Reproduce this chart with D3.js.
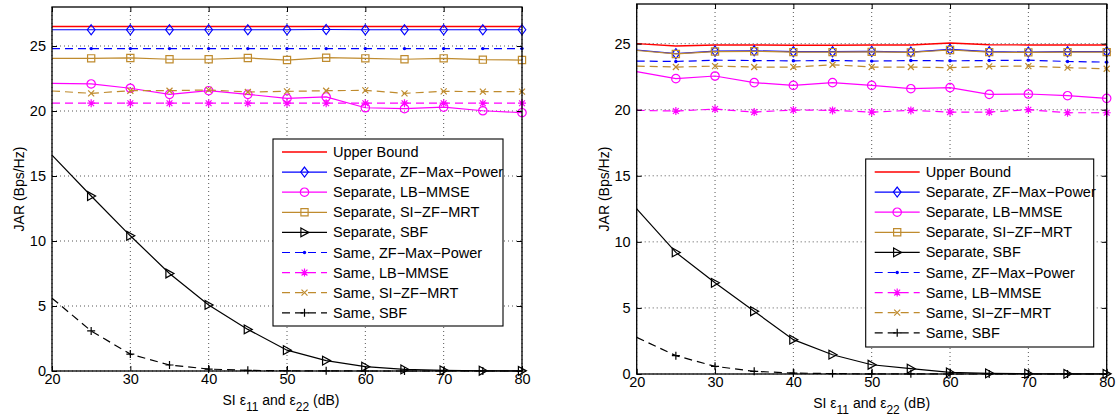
<!DOCTYPE html>
<html>
<head>
<meta charset="utf-8">
<script src="https://cdn.jsdelivr.net/npm/d3@7"></script>
<style>
  body { margin: 0; background: #fff; }
  svg { font-family: "Liberation Sans", Arial, Helvetica, sans-serif; }
  .axis path { display: none; }
  .axis line { stroke: #000; }
  .axis text { font-size: 14.5px; fill: #000; }
</style>
</head>
<body>
<div id="chart"></div>
<script>
// x values (SI in dB)
var xVals = [20, 25, 30, 35, 40, 45, 50, 55, 60, 65, 70, 75, 80];
var xTicks = [20, 30, 40, 50, 60, 70, 80];
var yTicks = [0, 5, 10, 15, 20, 25];

var seriesNames = [
  "Upper Bound",
  "Separate, ZF\u2212Max\u2212Power",
  "Separate, LB\u2212MMSE",
  "Separate, SI\u2212ZF\u2212MRT",
  "Separate, SBF",
  "Same, ZF\u2212Max\u2212Power",
  "Same, LB\u2212MMSE",
  "Same, SI\u2212ZF\u2212MRT",
  "Same, SBF"
];

// left panel
var leftUpper   = [26.5, 26.5, 26.5, 26.5, 26.5, 26.5, 26.5, 26.5, 26.5, 26.5, 26.5, 26.5, 26.5];
var leftSepZF   = [26.25, 26.25, 26.25, 26.25, 26.25, 26.25, 26.25, 26.27, 26.25, 26.25, 26.25, 26.25, 26.25];
var leftSepLB   = [22.13, 22.08, 21.75, 21.28, 21.56, 21.28, 20.97, 21.08, 20.25, 20.18, 20.3, 20.02, 19.87];
var leftSepSI   = [24.05, 24.05, 24.08, 23.98, 23.98, 24.08, 23.92, 24.1, 24.05, 23.98, 24.05, 23.95, 23.92];
var leftSepSBF  = [16.6, 13.46, 10.4, 7.5, 5.08, 3.2, 1.6, 0.8, 0.33, 0.12, 0.05, 0.02, 0.01];
var leftSameZF  = [24.8, 24.8, 24.8, 24.8, 24.8, 24.8, 24.8, 24.8, 24.8, 24.8, 24.8, 24.8, 24.8];
var leftSameLB  = [20.6, 20.6, 20.6, 20.6, 20.6, 20.6, 20.6, 20.6, 20.6, 20.6, 20.6, 20.6, 20.6];
var leftSameSI  = [21.54, 21.36, 21.56, 21.56, 21.62, 21.46, 21.51, 21.56, 21.59, 21.36, 21.51, 21.49, 21.49];
var leftSameSBF = [5.6, 3.08, 1.3, 0.46, 0.15, 0.05, 0.02, 0.01, 0.0, 0.0, 0.0, 0.0, 0.0];

// right panel
var rightUpper   = [25.0, 24.82, 24.9, 24.9, 24.88, 24.88, 24.9, 24.9, 25.05, 24.92, 24.9, 24.9, 24.9];
var rightSepZF   = [24.52, 24.24, 24.44, 24.46, 24.39, 24.39, 24.41, 24.36, 24.57, 24.39, 24.36, 24.39, 24.39];
var rightSepLB   = [22.88, 22.35, 22.55, 22.05, 21.84, 22.05, 21.84, 21.59, 21.67, 21.16, 21.19, 21.06, 20.86];
var rightSepSI   = [24.48, 24.22, 24.4, 24.42, 24.36, 24.36, 24.38, 24.34, 24.52, 24.36, 24.34, 24.36, 24.36];
var rightSepSBF  = [12.5, 9.2, 6.9, 4.75, 2.6, 1.46, 0.7, 0.4, 0.12, 0.05, 0.02, 0.01, 0.01];
var rightSameZF  = [23.68, 23.65, 23.75, 23.72, 23.7, 23.72, 23.68, 23.72, 23.7, 23.72, 23.75, 23.65, 23.6];
var rightSameLB  = [19.95, 19.9, 20.05, 19.82, 19.98, 19.95, 19.82, 19.95, 19.82, 19.82, 20.0, 19.77, 19.77];
var rightSameSI  = [23.3, 23.23, 23.3, 23.23, 23.23, 23.4, 23.23, 23.23, 23.18, 23.28, 23.3, 23.18, 23.1];
var rightSameSBF = [2.77, 1.39, 0.58, 0.2, 0.07, 0.03, 0.01, 0.01, 0.0, 0.0, 0.0, 0.0, 0.0];

var brown = "#bf8b2e";
var styles = [
  {color: "#ff0000", dash: null,  marker: null},
  {color: "#0000ff", dash: null,  marker: "diamond"},
  {color: "#ff00ff", dash: null,  marker: "circle"},
  {color: brown,     dash: null,  marker: "square"},
  {color: "#000000", dash: null,  marker: "triangle"},
  {color: "#0000ff", dash: "8,5", marker: "dot"},
  {color: "#ff00ff", dash: "8,5", marker: "asterisk"},
  {color: brown,     dash: "8,5", marker: "cross"},
  {color: "#000000", dash: "8,5", marker: "plus"}
];

function markerPath(type)
{
  switch(type)
  {
    case "diamond": return "M0,-5L3.8,0L0,5L-3.8,0Z";
    case "square": return "M-3.6,-3.6H3.6V3.6H-3.6Z";
    case "triangle": return "M-3.6,-4.4L4.4,0L-3.6,4.4Z";
    case "asterisk": return "M-4,0H4M0,-4V4M-2.9,-2.9L2.9,2.9M-2.9,2.9L2.9,-2.9";
    case "cross": return "M-3,-3L3,3M-3,3L3,-3";
    case "plus": return "M-4,0H4M0,-4V4";
  }
  return "";
}

function drawMarker(g, type, color)
{
  if(!type) return;
  if(type == "circle")
    g.append("circle").attr("r", 4.2).attr("fill", "none").attr("stroke", color).attr("stroke-width", 1.2);
  else if(type == "dot")
    g.append("circle").attr("r", 1.7).attr("fill", color);
  else
    g.append("path").attr("d", markerPath(type)).attr("fill", "none")
      .attr("stroke", color).attr("stroke-width", 1.2);
}

var svg = d3.select("#chart").append("svg")
  .attr("width", 1118)
  .attr("height", 420);

function Panel(cfg)
{
  var width = cfg.width, height = cfg.height;
  var g = svg.append("g").attr("transform", "translate(" + cfg.left + "," + cfg.top + ")");

  var xS = d3.scaleLinear().domain([20, 80]).range([0, width]);
  var yS = d3.scaleLinear().domain([0, 28]).range([height, 0]);

  // dotted grid
  g.append("g").selectAll("line").data(xTicks).enter().append("line")
    .attr("x1", function(d) { return xS(d); }).attr("x2", function(d) { return xS(d); })
    .attr("y1", 0).attr("y2", height)
    .attr("stroke", "#444").attr("stroke-width", 0.9).attr("stroke-dasharray", "1,3");
  g.append("g").selectAll("line").data(yTicks).enter().append("line")
    .attr("y1", function(d) { return yS(d); }).attr("y2", function(d) { return yS(d); })
    .attr("x1", 0).attr("x2", width)
    .attr("stroke", "#444").attr("stroke-width", 0.9).attr("stroke-dasharray", "1,3");

  var line = d3.line()
    .x(function(d) { return xS(d.x); })
    .y(function(d) { return yS(d.y); });

  cfg.series.forEach(function(s, i)
  {
    var st = styles[i];
    var pts = xVals.map(function(x, j) { return {x: x, y: s[j]}; });
    g.append("path")
      .datum(pts)
      .attr("fill", "none")
      .attr("stroke", st.color)
      .attr("stroke-width", i == 0 ? 1.4 : 1.2)
      .attr("stroke-dasharray", st.dash)
      .attr("d", line);
    if(st.marker)
    {
      g.append("g").selectAll("g").data(pts.slice(1)).enter().append("g")
        .attr("transform", function(d) { return "translate(" + xS(d.x) + "," + yS(d.y) + ")"; })
        .each(function() { drawMarker(d3.select(this), st.marker, st.color); });
    }
  });

  // axes with inward ticks
  g.append("g").attr("class", "axis")
    .attr("transform", "translate(0," + height + ")")
    .call(d3.axisBottom(xS).tickValues(xTicks).tickSizeInner(-5).tickSizeOuter(0).tickPadding(3));
  g.append("g").attr("class", "axis")
    .call(d3.axisTop(xS).tickValues(xTicks).tickSizeInner(-5).tickSizeOuter(0).tickFormat(""));
  g.append("g").attr("class", "axis")
    .call(d3.axisLeft(yS).tickValues(yTicks).tickSizeInner(-5).tickSizeOuter(0).tickPadding(6));
  g.append("g").attr("class", "axis")
    .attr("transform", "translate(" + width + ",0)")
    .call(d3.axisRight(yS).tickValues(yTicks).tickSizeInner(-5).tickSizeOuter(0).tickFormat(""));

  g.append("rect")
    .attr("width", width).attr("height", height)
    .attr("fill", "none").attr("stroke", "#000").attr("stroke-width", 1.3);

  // axis labels
  var xl = g.append("text")
    .attr("x", width / 2 + cfg.xLabelShift)
    .attr("y", height + 34)
    .attr("text-anchor", "middle")
    .style("font-size", "14px");
  xl.append("tspan").text("SI \u03b5");
  xl.append("tspan").attr("dy", 6).style("font-size", "12px").text("11");
  xl.append("tspan").attr("dy", -6).text(" and \u03b5");
  xl.append("tspan").attr("dy", 6).style("font-size", "12px").text("22");
  xl.append("tspan").attr("dy", -6).text(" (dB)");

  g.append("text")
    .attr("transform", "translate(" + cfg.yLabelX + "," + (height / 2) + ") rotate(-90)")
    .attr("text-anchor", "middle")
    .attr("dy", "0.35em")
    .style("font-size", "14px")
    .text("JAR (Bps/Hz)");

  // legend
  var lg = g.append("g").attr("transform", "translate(" + cfg.legX + "," + cfg.legY + ")");
  lg.append("rect")
    .attr("width", cfg.legW).attr("height", cfg.legH)
    .attr("fill", "#fff").attr("stroke", "#000").attr("stroke-width", 1.1);
  seriesNames.forEach(function(name, i)
  {
    var st = styles[i];
    var y = 13 + i * 20.1;
    var row = lg.append("g").attr("transform", "translate(0," + y + ")");
    row.append("line")
      .attr("x1", 9).attr("x2", 54).attr("y1", 0).attr("y2", 0)
      .attr("stroke", st.color).attr("stroke-width", i == 0 ? 1.4 : 1.2)
      .attr("stroke-dasharray", st.dash);
    var m = row.append("g").attr("transform", "translate(31.5,0)");
    drawMarker(m, st.marker, st.color);
    row.append("text")
      .attr("x", 60).attr("dy", "0.35em")
      .style("font-size", "14.5px")
      .text(name);
  });
}

Panel({
  left: 52, top: 7, width: 470, height: 364, yLabelX: -33, xLabelShift: -6,
  legX: 221, legY: 132, legW: 230, legH: 187,
  series: [leftUpper, leftSepZF, leftSepLB, leftSepSI, leftSepSBF, leftSameZF, leftSameLB, leftSameSI, leftSameSBF]
});

Panel({
  left: 636.7, top: 4, width: 470, height: 370, yLabelX: -33, xLabelShift: 0,
  legX: 229, legY: 155, legW: 228, legH: 188,
  series: [rightUpper, rightSepZF, rightSepLB, rightSepSI, rightSepSBF, rightSameZF, rightSameLB, rightSameSI, rightSameSBF]
});
</script>
</body>
</html>
